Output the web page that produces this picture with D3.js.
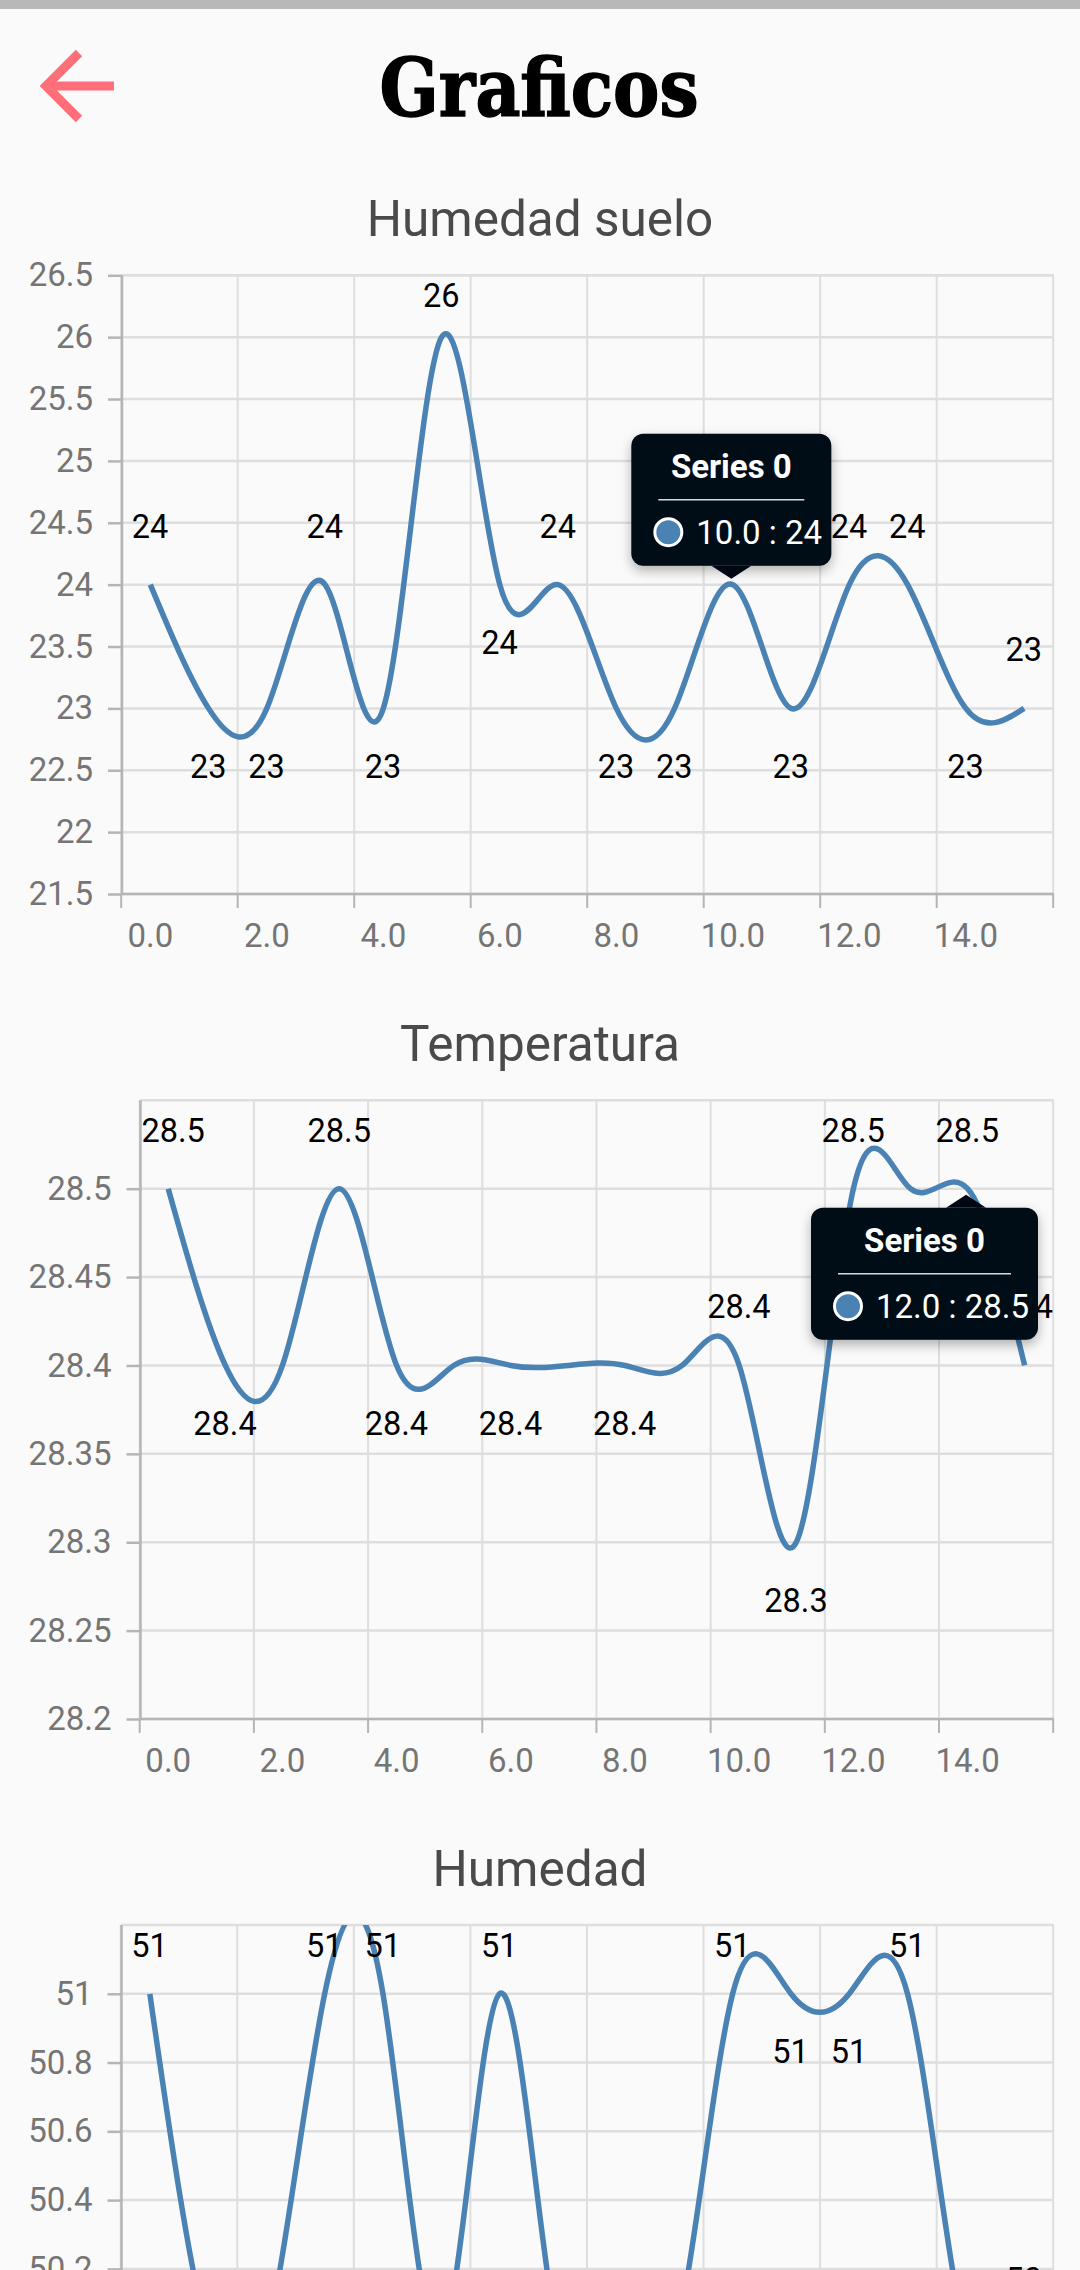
<!DOCTYPE html>
<html>
<head>
<meta charset="utf-8">
<script src="https://cdn.jsdelivr.net/npm/d3@7"></script>
<style>
html,body{margin:0;padding:0;background:#fafafa;overflow:hidden}
svg{display:block}
text{font-family:Roboto,sans-serif}
</style>
</head>
<body>
<svg id="c" width="1080" height="2270" viewBox="0 0 1080 2270"></svg>
<script>
const pageTitle = "Graficos";
const xPositions = d3.range(16);
const xTickValues = [0,2,4,6,8,10,12,14];
const xBoundaries = [-0.5,1.5,3.5,5.5,7.5,9.5,11.5,13.5,15.5];

const sueloTitle = "Humedad suelo";
const sueloValues = [24,23,23,24,23,26,24,24,23,23,24,23,24,24,23,23];
const sueloLabelDir = ["u","d","d","u","d","u","d","u","d","d","u","d","u","u","d","u"];
const sueloTicks = [21.5,22,22.5,23,23.5,24,24.5,25,25.5,26,26.5];
const sueloDomain = [21.5,26.5];

const tempTitle = "Temperatura";
const tempValues = [28.5,28.4,28.4,28.5,28.4,28.4,28.4,28.4,28.4,28.4,28.4,28.3,28.5,28.5,28.5,28.4];
const tempLabelDir = ["u","d",null,"u","d",null,"d",null,"d",null,"u","d","u",null,"u","u"];
const tempTicks = [28.2,28.25,28.3,28.35,28.4,28.45,28.5];
const tempDomain = [28.2,28.55];

const humTitle = "Humedad";
const humValues = [51,50,50,51,51,50,51,50,50,50,51,51,51,51,50,50];
const humLabelDir = ["u","d","d","u","u","d","u","d","d","d","u","d","d","u","d","u"];
const humTicks = [49.4,49.6,49.8,50,50.2,50.4,50.6,50.8,51];
const humDomain = [49.4,51.2];

const charts = [
  {title:sueloTitle, values:sueloValues, dirs:sueloLabelDir, ticks:sueloTicks, domain:sueloDomain,
   left:122, top:275.3, bottom:894, titleY:235.5,
   tip:{index:10, head:"Series 0", body:"10.0 : 24", below:false, w:200}},
  {title:tempTitle, values:tempValues, dirs:tempLabelDir, ticks:tempTicks, domain:tempDomain,
   left:140.5, top:1100.3, bottom:1719, titleY:1060.5,
   tip:{index:14, head:"Series 0", body:"12.0 : 28.5", below:true, w:227, clampRight:1038}},
  {title:humTitle, values:humValues, dirs:humLabelDir, ticks:humTicks, domain:humDomain,
   left:121.5, top:1925, bottom:2544, titleY:1886}
];

const RIGHT = 1054;
const svg = d3.select("#c");
const defs = svg.append("defs");
const sh = defs.append("filter").attr("id","sh").attr("x","-20%").attr("y","-20%").attr("width","140%").attr("height","150%");
sh.append("feDropShadow").attr("dx",0).attr("dy",5).attr("stdDeviation",6).attr("flood-color","#000").attr("flood-opacity",0.3);

svg.append("rect").attr("width",1080).attr("height",2270).attr("fill","#fafafa");
svg.append("rect").attr("width",1080).attr("height",9).attr("fill","#b8b8b8");

// header
svg.append("text").text(pageTitle).attr("x",539).attr("y",116).attr("text-anchor","middle")
  .attr("font-size",80).attr("font-weight",700).attr("fill","#000")
  .attr("stroke","#000").attr("stroke-width",1.4)
  .style("font-family","'DejaVu Serif Condensed','DejaVu Serif',serif")
  .attr("textLength",319).attr("lengthAdjust","spacingAndGlyphs");
svg.append("path").attr("d","M114,86H52M79,53L46,86L79,119").attr("fill","none")
  .attr("stroke","#ff6f7a").attr("stroke-width",9).attr("stroke-linejoin","miter");

function roundedBox(x0,y0,w,h,r){
  const p = d3.path();
  p.moveTo(x0+r,y0);
  p.arcTo(x0+w,y0,x0+w,y0+h,r);
  p.arcTo(x0+w,y0+h,x0,y0+h,r);
  p.arcTo(x0,y0+h,x0,y0,r);
  p.arcTo(x0,y0,x0+w,y0,r);
  p.closePath();
  return p.toString();
}

charts.forEach((c,i)=>{
  const x = d3.scaleLinear().domain([-0.5,15.5]).range([c.left-0.8,RIGHT-0.8]);
  const y = d3.scaleLinear().domain(c.domain).range([c.bottom,c.top]);
  const g = svg.append("g");
  const grid = "#dedede", axis = "#b5b5b5";

  g.append("text").text(c.title).attr("x",540).attr("y",c.titleY).attr("text-anchor","middle")
    .attr("font-size",49.5).attr("fill","#4a4a4a");

  g.selectAll(".h").data(c.ticks.concat([c.domain[1]])).enter().append("line")
    .attr("x1",c.left).attr("x2",RIGHT).attr("y1",d=>y(d)).attr("y2",d=>y(d))
    .attr("stroke",grid).attr("stroke-width",2.5);
  g.selectAll(".v").data(xBoundaries).enter().append("line")
    .attr("x1",d=>x(d)).attr("x2",d=>x(d)).attr("y1",c.top).attr("y2",c.bottom)
    .attr("stroke",grid).attr("stroke-width",2);

  const yAxis = d3.axisLeft(y).tickValues(c.ticks).tickSize(14).tickPadding(15).tickFormat(d=>String(+d.toFixed(2)));
  const ya = g.append("g").attr("transform",`translate(${c.left},0)`).call(yAxis);
  ya.select(".domain").attr("stroke",axis).attr("stroke-width",2.5).attr("d",`M0,${c.top}V${c.bottom}`);
  ya.selectAll(".tick line").attr("stroke",axis).attr("stroke-width",2.5);
  ya.selectAll(".tick text").attr("fill","#757575").attr("font-size",33).style("font-family","Roboto,sans-serif");

  g.append("line").attr("x1",c.left).attr("x2",RIGHT).attr("y1",c.bottom).attr("y2",c.bottom)
    .attr("stroke",axis).attr("stroke-width",2.5);
  g.selectAll(".xt").data(xBoundaries).enter().append("line")
    .attr("x1",d=>x(d)).attr("x2",d=>x(d)).attr("y1",c.bottom).attr("y2",c.bottom+14)
    .attr("stroke",axis).attr("stroke-width",2);
  g.selectAll(".xl").data(xTickValues).enter().append("text")
    .text(d=>d.toFixed(1)).attr("x",d=>x(d)).attr("y",c.bottom+53).attr("text-anchor","middle")
    .attr("font-size",33).attr("fill","#757575");

  const clipId = "clip"+i;
  defs.append("clipPath").attr("id",clipId).append("rect")
    .attr("x",c.left).attr("y",c.top).attr("width",RIGHT-c.left).attr("height",c.bottom-c.top);
  const line = d3.line().x((d,j)=>x(xPositions[j])).y(d=>y(d)).curve(d3.curveNatural);
  g.append("path").datum(c.values).attr("d",line).attr("clip-path",`url(#${clipId})`)
    .attr("fill","none").attr("stroke","#4a82b4").attr("stroke-width",5.5);

  const labs = g.append("g");
  c.values.forEach((v,j)=>{
    const dir = c.dirs[j];
    if(!dir) return;
    const t = labs.append("text").text(String(v)).attr("font-size",32.5).attr("fill","#000")
      .attr("text-anchor","middle").attr("dominant-baseline","central");
    const w = t.node().getComputedTextLength();
    let px = x(j)-0.3;
    px = Math.max(c.left+w/2+1, Math.min(RIGHT-w/2-1, px));
    let py = y(v) + (dir==="u" ? -58 : 58.5);
    py = Math.max(c.top+20.5, py);
    t.attr("x",px).attr("y",py);
  });

  if(c.tip){
    const tp = c.tip;
    const tx = x(tp.index)-1.5, vy = y(c.values[tp.index]);
    const h = 132, gap = 13;
    const tipY = tp.below ? vy+6 : vy-6;
    const boxTop = tp.below ? tipY+gap : tipY-gap-h;
    let boxX = tx - tp.w/2;
    if(tp.clampRight) boxX = tp.clampRight - tp.w;
    const cx = boxX + tp.w/2;
    const T = g.append("g");
    T.append("path").attr("filter","url(#sh)").attr("fill","#010814").attr("d",roundedBox(boxX,boxTop,tp.w,h,12));
    const baseY = tp.below ? boxTop : boxTop+h;
    T.append("path").attr("fill","#010814").attr("d",`M${tx-20},${baseY}L${tx},${tipY}L${tx+20},${baseY}Z`);
    T.append("text").text(tp.head).attr("x",cx).attr("y",boxTop+44).attr("text-anchor","middle")
      .attr("font-size",33).attr("font-weight",700).attr("fill","#fff");
    T.append("line").attr("x1",cx-(tp.w>210?86.5:73)).attr("x2",cx+(tp.w>210?86.5:73))
      .attr("y1",boxTop+66).attr("y2",boxTop+66).attr("stroke","#d8dade").attr("stroke-width",1.5);
    T.append("circle").attr("cx",boxX+37).attr("cy",boxTop+98.5).attr("r",13.5)
      .attr("fill","#4a82b4").attr("stroke","#fff").attr("stroke-width",3);
    T.append("text").text(tp.body).attr("x",boxX+65).attr("y",boxTop+110)
      .attr("font-size",33).attr("fill","#fff");
  }
});
</script>
</body>
</html>
